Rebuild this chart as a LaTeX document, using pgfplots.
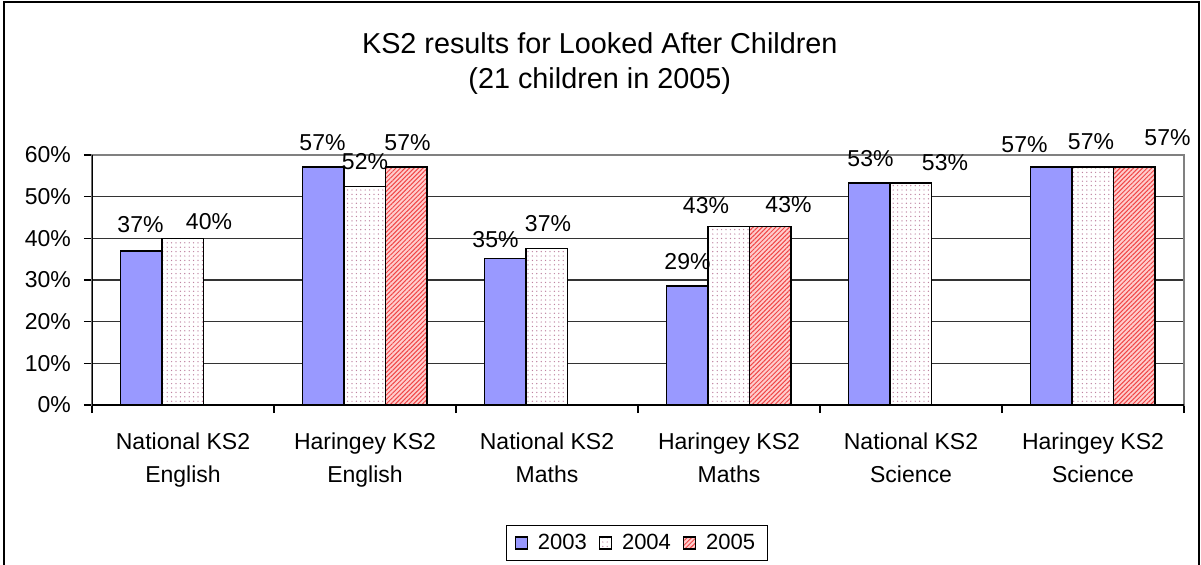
\documentclass[border=0pt]{standalone}
\usepackage{fontspec}
\setmainfont{Liberation Sans}
\usepackage{pgfplots}
\pgfplotsset{compat=1.18}
\usepackage{pgfplotstable}
\usetikzlibrary{patterns.meta}

\definecolor{c2003}{RGB}{153,153,255}
\definecolor{dotc}{RGB}{190,130,160}
\definecolor{hatc}{RGB}{240,70,70}
\definecolor{hatbg}{RGB}{255,205,205}

% columns: category index, value, printed label
\pgfplotstableread{
x y lbl
0 37.0 37
1 57.1 57
2 35.2 35
3 28.6 29
4 53.3 53
5 57.1 57
}\dataA
\pgfplotstableread{
x y lbl
0 40.0 40
1 52.4 52
2 37.6 37
3 42.9 43
4 53.3 53
5 57.1 57
}\dataB
\pgfplotstableread{
x y lbl
1 57.1 57
3 42.9 43
5 57.1 57
}\dataC

% label offsets (in px of the reference, 0.5pt each), indexed by category
\pgfplotsset{lbls/.style 2 args={
  nodes near coords={\pgfmathprintnumber{\pgfplotspointmeta}\%},
  point meta=explicit,
  visualization depends on={rawx \as \xval},
  every node near coord/.append style={anchor=center,
    xshift={{#1}[int(\xval)]*0.5pt}, yshift={{#2}[int(\xval)]*0.5pt},
    font=\fontsize{11.5}{13}\selectfont, text=black},
}}

\begin{document}
\begin{tikzpicture}[x=1pt,y=1pt]
\useasboundingbox (0,0) rectangle (600.5,282);
\draw[line width=1pt] (2,-5) rectangle (599.5,281);
\begin{axis}[
  at={(46pt,79.5pt)}, anchor=south west,
  scale only axis, width=546pt, height=125pt,
  xmin=-0.5, xmax=5.5, ymin=0, ymax=60,
  ybar=0pt, bar width=20.75pt,
  xtick={0,...,5},
  xticklabels={{National KS2\\English},{Haringey KS2\\English},{National KS2\\Maths},{Haringey KS2\\Maths},{National KS2\\Science},{Haringey KS2\\Science}},
  minor xtick={-0.5,0.5,...,5.5},
  major x tick style={draw=none},
  ytick={0,10,...,60},
  yticklabel={\pgfmathprintnumber{\tick}\%},
  /pgf/number format/assume math mode=true,
  tick align=outside, xtick pos=bottom, ytick pos=left,
  major tick length=4pt, minor tick length=4pt,
  tick style={black, line width=0.6pt},
  ymajorgrids, grid style={black!80, line width=0.6pt},
  axis line style={gray, line width=0.8pt},
  tick label style={font=\fontsize{11.5}{16.5}\selectfont},
  xticklabel style={align=center, yshift=-6.5pt},
  yticklabel style={xshift=-3pt},
  title={KS2 results for Looked After Children\\(21 children in 2005)},
  title style={at={(0.465,1.316)}, anchor=center, align=center, font=\fontsize{14.4}{17.5}\selectfont},
  legend style={at={(0.499,-0.552)}, anchor=center, legend columns=3, draw=black, line width=0.6pt,
    font=\fontsize{11}{13}\selectfont, inner xsep=4pt, inner ysep=2pt,
    /tikz/every odd column/.append style={column sep=3pt},
    /tikz/every even column/.append style={column sep=4pt}},
  legend image code/.code={\draw[#1, line width=0.6pt] (0pt,-3pt) rectangle (6pt,3pt);},
]
\addplot[fill=c2003, draw=black, line width=0.75pt,
  lbls={-1,-1,-10,0,1,-27}{26,24,19,24,24,22}] table[x=x,y=y,meta=lbl]{\dataA};
\addplot[fill=white, draw=black, line width=0.75pt,
  lbls={26,0,1,-23,34,-2}{17,25,25,21,20,25},
  postaction={pattern={Dots[distance=2.2pt, radius=0.35pt]}, pattern color=dotc}] table[x=x,y=y,meta=lbl]{\dataB};
\addplot[fill=hatbg, draw=black, line width=0.75pt,
  lbls={0,1,0,18,0,33}{0,24,0,22,0,29},
  postaction={pattern={Lines[angle=45, distance=1.6pt, line width=0.5pt]}, pattern color=hatc}] table[x=x,y=y,meta=lbl]{\dataC};
\legend{2003,2004,2005}
\draw[black, line width=0.8pt] (rel axis cs:0,1) -- (rel axis cs:0,0) -- (rel axis cs:1,0);
\end{axis}
\end{tikzpicture}
\end{document}
